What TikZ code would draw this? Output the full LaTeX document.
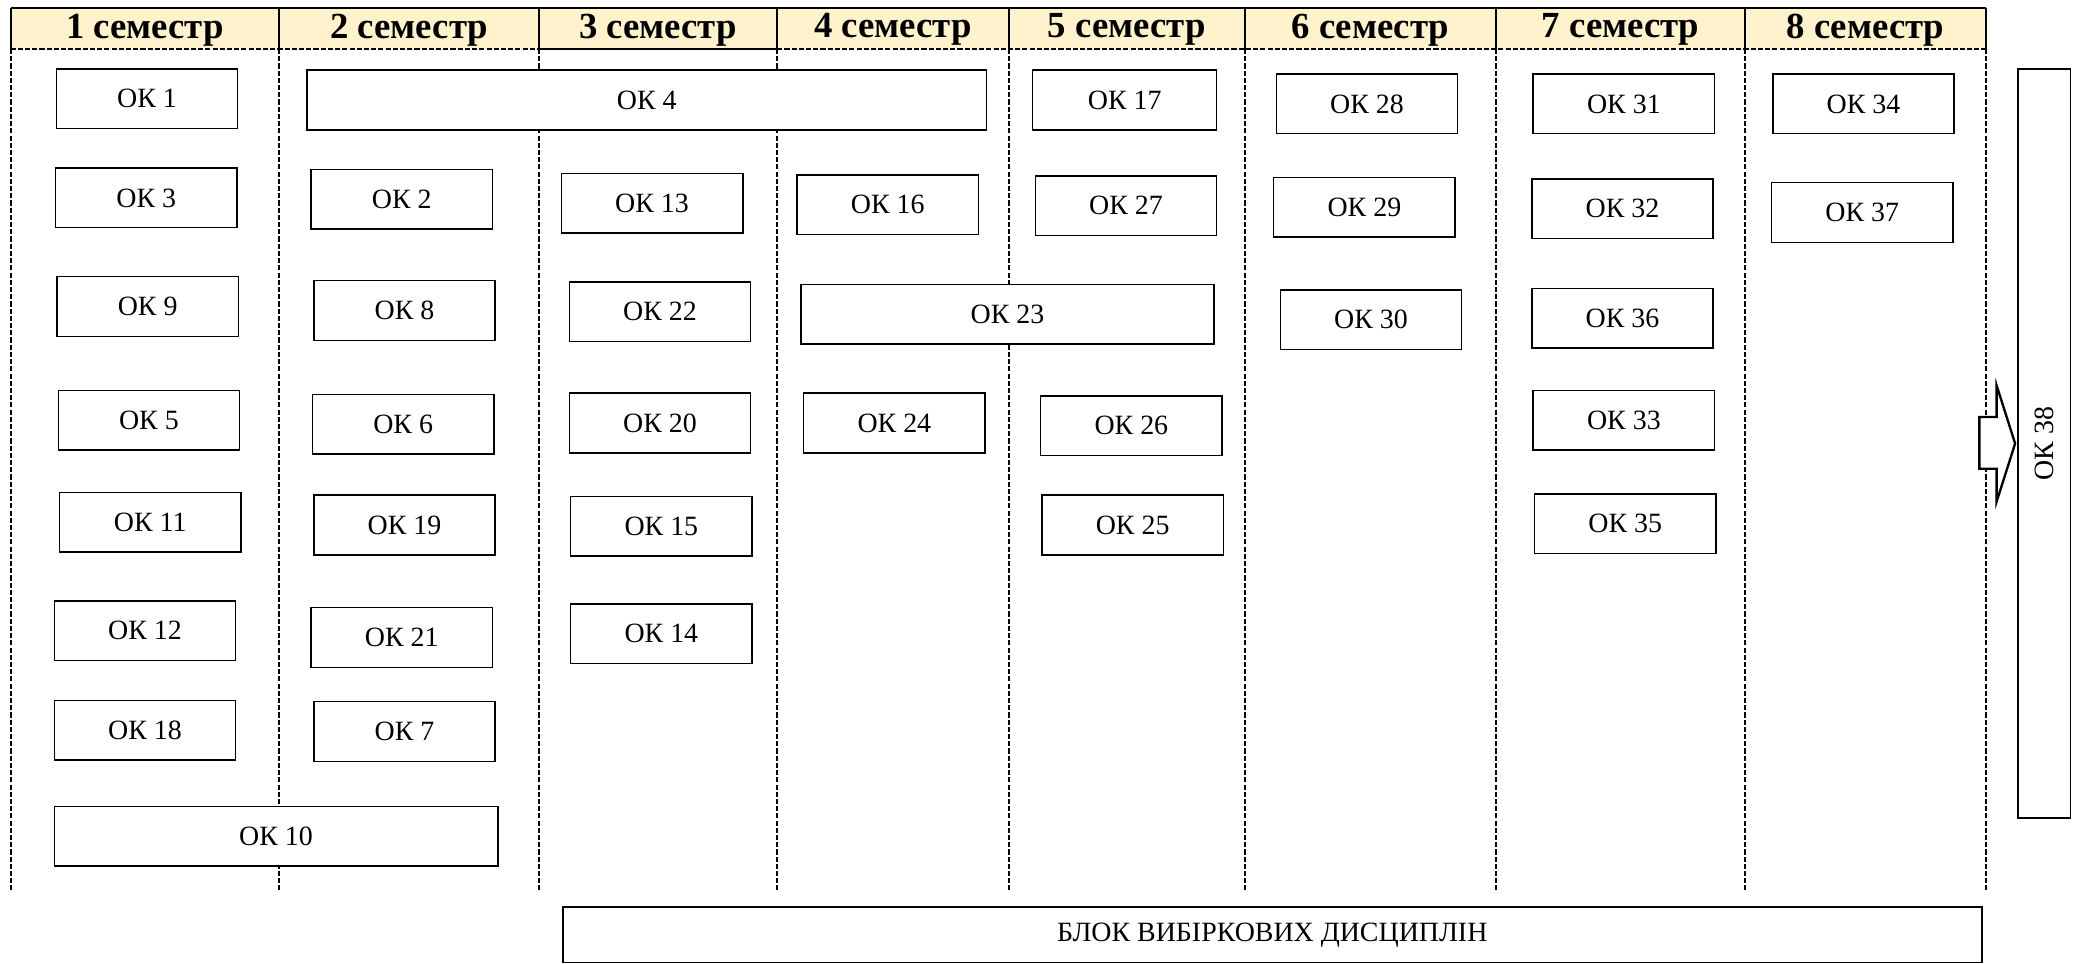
\documentclass[tikz,border=0pt]{standalone}
\usepackage{fontspec}
\setmainfont{Liberation Serif}
\usepackage{xcolor}
\definecolor{hdrfill}{HTML}{FFF2CC}
\tikzset{
  okbox/.style={draw, fill=white, line width=0.65pt, inner sep=0pt, minimum width=2.74cm, minimum height=0.9cm, font=\fontsize{12}{14}\selectfont},
  semtitle/.style={inner sep=0pt, font=\bfseries\fontsize{15.8}{18}\selectfont},
  colline/.style={line width=0.85pt, dash pattern=on 2.2pt off 0.9pt}
}

\begin{document}
\begin{tikzpicture}[x=0.02cm,y=-0.02cm]
\useasboundingbox (0,0) rectangle (1568,728);

% header
\fill[hdrfill] (8,6) rectangle (1500,37);
\draw[line width=1.2pt] (8,6)--(1500,6);
\draw[line width=0.9pt] (8,6)--(8,37);
\draw[line width=0.9pt] (211,6)--(211,37);
\draw[line width=0.9pt] (407,6)--(407,37);
\draw[line width=0.9pt] (587,6)--(587,37);
\draw[line width=0.9pt] (762,6)--(762,37);
\draw[line width=0.9pt] (940,6)--(940,37);
\draw[line width=0.9pt] (1130,6)--(1130,37);
\draw[line width=0.9pt] (1318,6)--(1318,37);
\draw[line width=0.9pt] (1500,6)--(1500,37);
\draw[colline] (8,37)--(407,37);
\draw[line width=1.2pt] (407,37)--(587,37);
\draw[colline] (587,37)--(1500,37);

\node[semtitle] (sem1) at (109.5,22.5) {1 семестр};
\node[semtitle] (sem2) at (309,22.5) {2 семестр};
\node[semtitle] (sem3) at (497,22.5) {3 семестр};
\node[semtitle] (sem4) at (674.5,22.5) {4 семестр};
\node[semtitle] (sem5) at (851,22.5) {5 семестр};
\node[semtitle] (sem6) at (1035,22.5) {6 семестр};
\node[semtitle] (sem7) at (1224,22.5) {7 семестр};
\node[semtitle] (sem8) at (1409,22.5) {8 семестр};

% column lines
\draw[colline] (8,37)--(8,672);
\draw[colline] (211,37)--(211,672);
\draw[colline] (407,37)--(407,672);
\draw[colline] (587,37)--(587,672);
\draw[colline] (762,37)--(762,672);
\draw[colline] (940,37)--(940,672);
\draw[colline] (1130,37)--(1130,672);
\draw[colline] (1318,37)--(1318,672);
\draw[colline] (1500,37)--(1500,672);

% 1 semester
\node[okbox] (ok1) at (111,74.5) {ОК 1};
\node[okbox] (ok3) at (110.5,149.5) {ОК 3};
\node[okbox] (ok9) at (111.5,231.5) {ОК 9};
\node[okbox] (ok5) at (112.5,317.5) {ОК 5};
\node[okbox] (ok11) at (113.5,394.5) {ОК 11};
\node[okbox] (ok12) at (109.5,476.5) {ОК 12};
\node[okbox] (ok18) at (109.5,551.5) {ОК 18};
\node[okbox, minimum width=6.7cm] (ok10) at (208.5,631.5) {ОК 10};

% 2 semester
\node[okbox, minimum width=10.26cm] (ok4) at (488.5,75.5) {ОК 4};
\node[okbox] (ok2) at (303.5,150.5) {ОК 2};
\node[okbox] (ok8) at (305.5,234.5) {ОК 8};
\node[okbox] (ok6) at (304.5,320.5) {ОК 6};
\node[okbox] (ok19) at (305.5,396.5) {ОК 19};
\node[okbox] (ok21) at (303.5,481.5) {ОК 21};
\node[okbox] (ok7) at (305.5,552.5) {ОК 7};

% 3 semester
\node[okbox] (ok13) at (492.5,153.5) {ОК 13};
\node[okbox] (ok22) at (498.5,235.5) {ОК 22};
\node[okbox] (ok20) at (498.5,319.5) {ОК 20};
\node[okbox] (ok15) at (499.5,397.5) {ОК 15};
\node[okbox] (ok14) at (499.5,478.5) {ОК 14};

% 4 semester
\node[okbox] (ok16) at (670.5,154.5) {ОК 16};
\node[okbox, minimum width=6.24cm] (ok23) at (761,237.5) {ОК 23};
\node[okbox] (ok24) at (675.5,319.5) {ОК 24};

% 5 semester
\node[okbox, minimum width=2.78cm] (ok17) at (849.5,75.5) {ОК 17};
\node[okbox] (ok27) at (850.5,155.5) {ОК 27};
\node[okbox] (ok26) at (854.5,321.5) {ОК 26};
\node[okbox] (ok25) at (855.5,396.5) {ОК 25};

% 6 semester
\node[okbox] (ok28) at (1032.5,78.5) {ОК 28};
\node[okbox] (ok29) at (1030.5,156.5) {ОК 29};
\node[okbox] (ok30) at (1035.5,241.5) {ОК 30};

% 7 semester
\node[okbox] (ok31) at (1226.5,78.5) {ОК 31};
\node[okbox] (ok32) at (1225.5,157.5) {ОК 32};
\node[okbox] (ok36) at (1225.5,240.5) {ОК 36};
\node[okbox] (ok33) at (1226.5,317.5) {ОК 33};
\node[okbox] (ok35) at (1227.5,395.5) {ОК 35};

% 8 semester
\node[okbox] (ok34) at (1407.5,78.5) {ОК 34};
\node[okbox] (ok37) at (1406.5,160.5) {ОК 37};

% final block
\node[okbox, rotate=90, minimum width=11.32cm, minimum height=0.8cm] (ok38) at (1544,335) {ОК 38};
\coordinate (tip) at (1522,335);
\draw[line width=1pt, fill=white] (1495,315)--(1508,315)--(1508,291)--(tip)--(1508,379)--(1508,354)--(1495,354)--cycle;

\node[okbox, minimum width=21.44cm, minimum height=0.84cm] (vib) at (961,706) {БЛОК ВИБІРКОВИХ ДИСЦИПЛІН};
\end{tikzpicture}
\end{document}
